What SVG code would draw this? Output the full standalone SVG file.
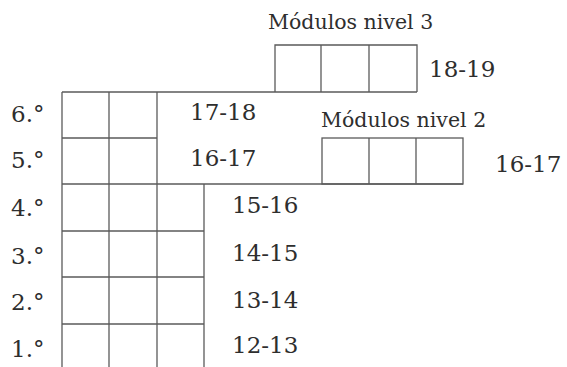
<svg xmlns="http://www.w3.org/2000/svg" width="567" height="367" viewBox="0 0 567 367">
<style>
.ln{stroke:#5a5a5a;stroke-width:1.3;fill:none}
.t{font-family:"DejaVu Serif","Liberation Serif",serif;font-size:23px;fill:#2e2e2e}
.h{font-family:"DejaVu Serif","Liberation Serif",serif;font-size:20.5px;fill:#2e2e2e}
</style>
<rect width="567" height="367" fill="#ffffff"/>
<g id="connectors" class="ln">
<line x1="62" y1="92" x2="417" y2="92"/>
<line x1="62" y1="138" x2="157" y2="138"/>
<line x1="62" y1="184" x2="463" y2="184"/>
<line x1="62" y1="231" x2="204" y2="231"/>
<line x1="62" y1="277" x2="204" y2="277"/>
<line x1="62" y1="324" x2="204" y2="324"/>
</g>
<g id="grid" class="ln">
<line x1="62" y1="92" x2="62" y2="367"/>
<line x1="109" y1="92" x2="109" y2="367"/>
<line x1="157" y1="92" x2="157" y2="367"/>
<line x1="204" y1="184" x2="204" y2="367"/>
</g>
<g id="nivel3" class="ln">
<polyline points="275,92 275,45 417,45 417,92"/>
<line x1="321" y1="45" x2="321" y2="92"/>
<line x1="369" y1="45" x2="369" y2="92"/>
</g>
<g id="nivel2" class="ln">
<rect x="322" y="138" width="141" height="46"/>
<line x1="369" y1="138" x2="369" y2="184"/>
<line x1="416" y1="138" x2="416" y2="184"/>
</g>
<g id="labels">
<text class="h" x="268" y="29">Módulos nivel 3</text>
<text class="h" x="321" y="127">Módulos nivel 2</text>
<text class="t" x="429" y="77">18-19</text>
<text class="t" x="495" y="172">16-17</text>
<text class="t" x="190" y="120">17-18</text>
<text class="t" x="190" y="166">16-17</text>
<text class="t" x="232" y="213">15-16</text>
<text class="t" x="232" y="261">14-15</text>
<text class="t" x="232" y="308">13-14</text>
<text class="t" x="232" y="353">12-13</text>
<text class="t" x="11" y="122">6.°</text>
<text class="t" x="11" y="168">5.°</text>
<text class="t" x="11" y="216">4.°</text>
<text class="t" x="11" y="264">3.°</text>
<text class="t" x="11" y="310">2.°</text>
<text class="t" x="11" y="357">1.°</text>
</g>
</svg>
